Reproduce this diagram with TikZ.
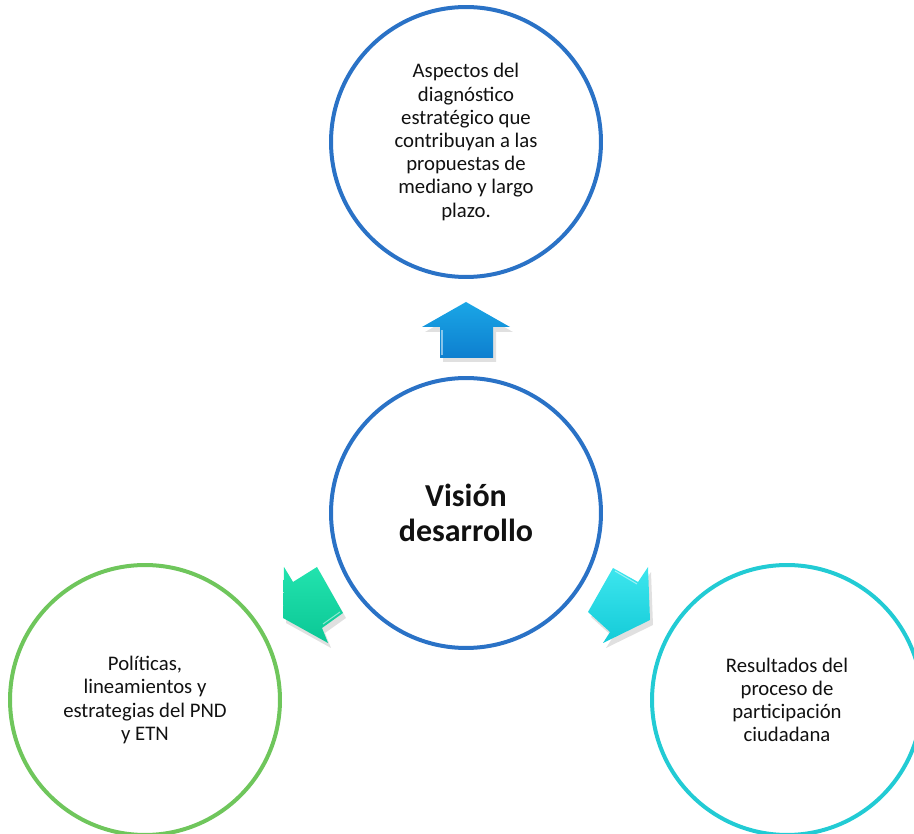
\documentclass[tikz,border=0pt]{standalone}
\usepackage{fontspec}
\setmainfont{Carlito}
\usetikzlibrary{positioning}
\definecolor{ringblue}{HTML}{2A72C6}
\definecolor{ringgreen}{HTML}{6FC65C}
\definecolor{ringcyan}{HTML}{22CBD4}
\definecolor{upblue}{HTML}{1AA6E6}
\definecolor{updark}{HTML}{0E7FCF}
\definecolor{mint}{HTML}{22E3AE}
\definecolor{mintdk}{HTML}{0BC795}
\definecolor{aqua}{HTML}{3DE6EE}
\definecolor{aquadk}{HTML}{14CBD8}
\definecolor{txt}{HTML}{111111}

\tikzset{
  ring/.style={circle, draw=#1, line width=0.08cm, minimum size=5.4cm,
    align=center, text=txt, font=\fontsize{11.8}{13.2}\selectfont},
  shadowfill/.style={fill=black, opacity=0.12}
}

\begin{document}
\begin{tikzpicture}[x=0.02cm, y=-0.02cm]

% Canvas (pixel units, y downwards)
\useasboundingbox (0,0) rectangle (914,834);

% === Circles ===
\node[ring=ringblue] (aspectos) at (466,142)
  {Aspectos del\\diagnóstico\\estratégico que\\contribuyan a las\\propuestas de\\mediano y largo\\plazo.};
\node[ring=ringblue, font=\fontsize{18.2}{20}\selectfont\bfseries] (vision) at (466,513)
  {Visión\\desarrollo};
\node[ring=ringgreen] (politicas) at (145,700)
  {Políticas,\\lineamientos y\\estrategias del PND\\y ETN};
\node[ring=ringcyan] (resultados) at (787,700)
  {Resultados del\\proceso de\\participación\\ciudadana};

% === Block arrows ===
% up arrow (centre -> top)
\fill[shadowfill] (469,307) -- (425,332) -- (443,332) -- (443,362) -- (496,362)
  -- (496,332) -- (513,332) -- cycle;
\shade[top color=upblue, bottom color=updark]
  (466,302) -- (422,327) -- (440,327) -- (440,358) -- (493,358)
  -- (493,327) -- (510,327) -- cycle;
\draw[white, opacity=0.5, line width=0.6pt] (442,330) -- (442,355);

% left arrow (centre -> politicas)
\fill[shadowfill] (286,623) -- (287,572) -- (296,587) -- (320,572) -- (346,618)
  -- (325,633) -- (331,648) -- cycle;
\shade[top color=mint, bottom color=mintdk]
  (283,618) -- (284,567) -- (293,582) -- (317,567) -- (343,613)
  -- (322,628) -- (328,643) -- cycle;
\draw[white, opacity=0.5, line width=0.6pt] (340,612) -- (323,624);

% right arrow (centre -> resultados)
\fill[shadowfill] (616,573) -- (641,587) -- (651,572) -- (653,625) -- (606,648)
  -- (613,637) -- (591,617) -- cycle;
\shade[top color=aqua, bottom color=aquadk]
  (613,568) -- (638,582) -- (648,567) -- (650,620) -- (603,643)
  -- (610,632) -- (588,612) -- cycle;
\draw[white, opacity=0.5, line width=0.6pt] (615,571) -- (637,584);

\end{tikzpicture}
\end{document}
